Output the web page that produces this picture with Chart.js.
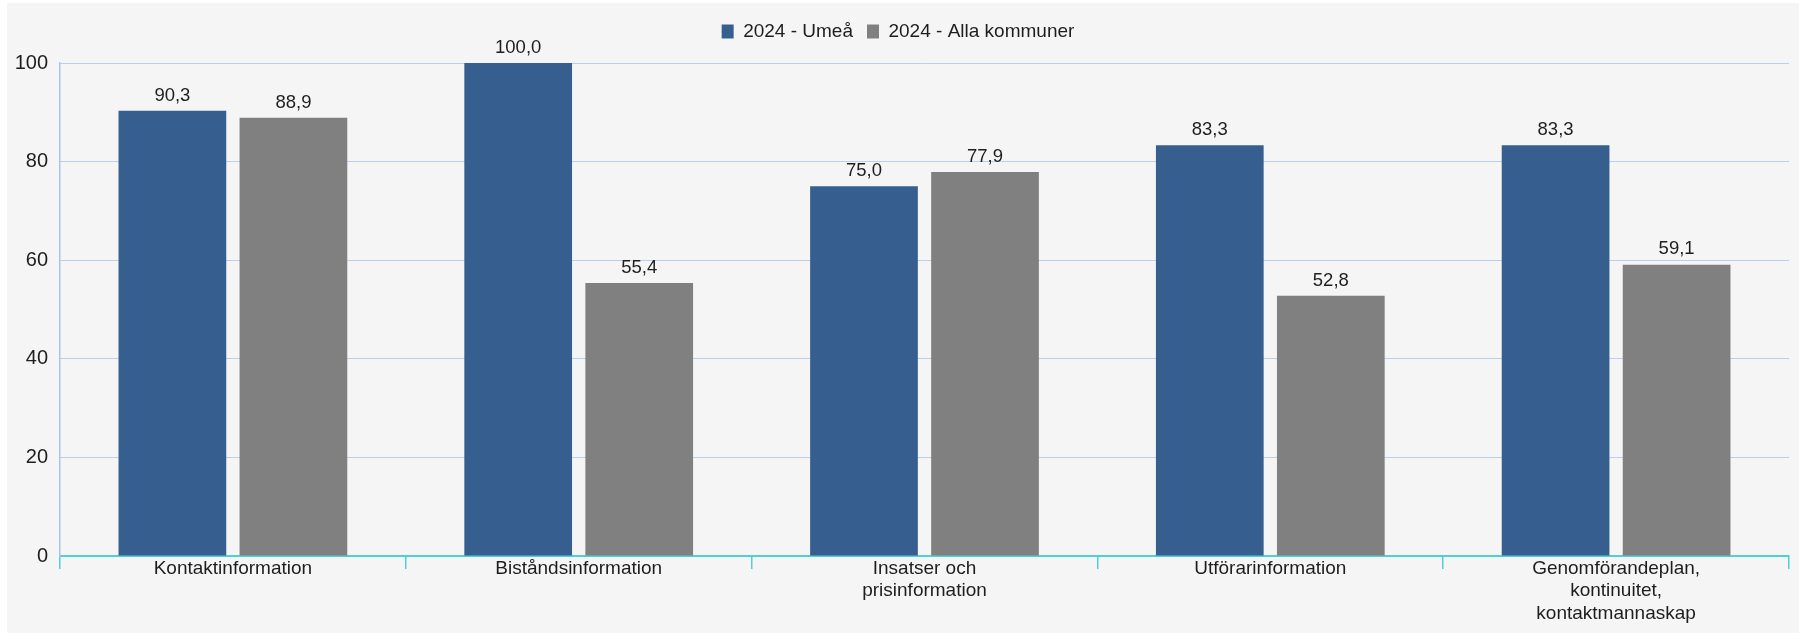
<!DOCTYPE html>
<html lang="sv">
<head>
<meta charset="utf-8">
<script src="https://cdn.jsdelivr.net/npm/chart.js@4.4.1/dist/chart.umd.min.js"></script>
<style>
  html, body { margin: 0; padding: 0; background: #ffffff; }
  #wrap { position: absolute; left: 7px; top: 3px; width: 1792px; height: 630px; background: #f5f5f5; }
</style>
</head>
<body>
<div id="wrap"><canvas id="graf"></canvas></div>
<script>
  const kategorier = [
    'Kontaktinformation',
    'Biståndsinformation',
    ['Insatser och', 'prisinformation'],
    'Utförarinformation',
    ['Genomförandeplan,', 'kontinuitet,', 'kontaktmannaskap']
  ];
  const umea = [90.3, 100.0, 75.0, 83.3, 83.3];
  const allaKommuner = [88.9, 55.4, 77.9, 52.8, 59.1];
  const yTicks = [0, 20, 40, 60, 80, 100];

  const FONT = '"Liberation Sans", Arial, sans-serif';
  const TEXT = '#1e1e1e';

  // etiketter ovanför staplarna, med decimalkomma
  const stapelEtiketter = {
    id: 'stapelEtiketter',
    afterDatasetsDraw(chart) {
      const ctx = chart.ctx;
      ctx.save();
      ctx.font = '18.5px ' + FONT;
      ctx.fillStyle = TEXT;
      ctx.textAlign = 'center';
      ctx.textBaseline = 'bottom';
      chart.data.datasets.forEach((ds, i) => {
        chart.getDatasetMeta(i).data.forEach((bar, j) => {
          const v = ds.data[j].toFixed(1).replace('.', ',');
          ctx.fillText(v, bar.x, bar.y - 6);
        });
      });
      ctx.restore();
    }
  };

  // lite extra luft under förklaringen
  const förklaringsMarginal = {
    id: 'forklaringsMarginal',
    beforeInit(chart) {
      const fit = chart.legend.fit;
      chart.legend.fit = function () {
        fit.bind(chart.legend)();
        this.height += 12;
      };
    }
  };

  Chart.defaults.font.family = FONT;
  Chart.defaults.color = TEXT;

  new Chart(document.getElementById('graf'), {
    type: 'bar',
    data: {
      labels: kategorier,
      datasets: [
        { label: '2024 - Umeå', data: umea, backgroundColor: '#365f90',
          categoryPercentage: 0.70, barPercentage: 0.89 },
        { label: '2024 - Alla kommuner', data: allaKommuner, backgroundColor: '#808080',
          categoryPercentage: 0.70, barPercentage: 0.89 }
      ]
    },
    options: {
      responsive: true,
      maintainAspectRatio: false,
      animation: false,
      layout: { padding: { top: 5, right: 10, left: 0, bottom: 0 } },
      plugins: {
        legend: {
          position: 'top',
          labels: { boxWidth: 12, boxHeight: 14, padding: 14, font: { size: 19 }, color: TEXT }
        },
        tooltip: { enabled: false }
      },
      scales: {
        x: {
          grid: { drawOnChartArea: false, drawTicks: true, tickLength: 13, color: '#4fd0d6', lineWidth: 1.5, offset: true },
          border: { color: '#4fd0d6', width: 2 },
          ticks: { font: { size: 19, lineHeight: 1.2 }, color: TEXT, padding: -12, maxRotation: 0, autoSkip: false },
          afterFit(scale) { scale.height = 77; }
        },
        y: {
          min: 0, max: 100,
          afterBuildTicks(scale) { scale.ticks = yTicks.map(v => ({ value: v })); },
          grid: { color: '#b9d0ea', lineWidth: 1, drawTicks: false },
          border: { color: '#a9c4e4', width: 1.5 },
          ticks: { font: { size: 20 }, color: TEXT, padding: 12 },
          afterFit(scale) { scale.width = 53; }
        }
      }
    },
    plugins: [stapelEtiketter, förklaringsMarginal]
  });
</script>
</body>
</html>
